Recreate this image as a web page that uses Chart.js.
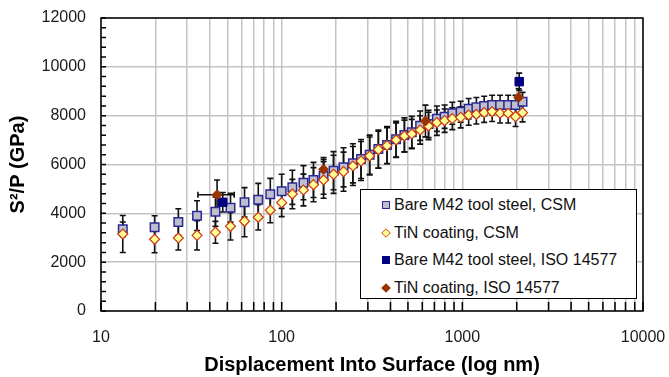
<!DOCTYPE html>
<html>
<head>
<meta charset="utf-8">
<script src="https://cdn.jsdelivr.net/npm/chart.js@4.4.0/dist/chart.umd.min.js"></script>
<style>
  html, body { margin: 0; padding: 0; background: #fff; }
  #wrap { position: relative; width: 669px; height: 377px; }
  #legend {
    position: absolute; left: 360px; top: 189px; width: 275px; height: 108px;
    border: 1px solid #000; background: #fff;
    font: 16px "Liberation Sans", Arial, sans-serif; color: #111;
  }
  .item { position: absolute; left: 0; height: 20px; line-height: 20px; white-space: nowrap; }
  .item span.txt { position: absolute; left: 33px; top: 0; }
  .mk { position: absolute; left: 21px; top: 6px; width: 8px; height: 8px; box-sizing: border-box; }
  .dia { transform: rotate(45deg) scale(0.85); }
</style>
</head>
<body>
<div id="wrap">
  <canvas id="chart" width="669" height="377"></canvas>
  <div id="legend">
    <div class="item" style="top:5px"><div class="mk" style="background:#bfbfcc;border:1.5px solid #2a2a96"></div><span class="txt">Bare M42 tool steel, CSM</span></div>
    <div class="item" style="top:33px"><div class="mk dia" style="background:#ffff99;border:1.5px solid #cc3a10"></div><span class="txt">TiN coating, CSM</span></div>
    <div class="item" style="top:60px"><div class="mk" style="background:#000080"></div><span class="txt">Bare M42 tool steel, ISO 14577</span></div>
    <div class="item" style="top:88px"><div class="mk dia" style="background:#993300"></div><span class="txt">TiN coating, ISO 14577</span></div>
  </div>
</div>
<script>
  // CSM depths (nm) shared by both continuous series
  const xCsm = [13.2, 19.8, 26.8, 34.0, 43.0, 52.1, 62.3, 74.2, 86.5, 100, 114.6, 132, 150, 170.6, 193.7,
    220, 248, 275, 307, 343, 383, 430, 478, 525, 584, 650, 723, 798, 880, 979, 1084, 1196, 1321, 1462,
    1618, 1794, 1970, 2154];
  const bareCsm = [3346, 3428, 3645, 3904, 4067, 4231, 4452, 4559, 4780, 4903, 5067, 5255, 5366, 5530, 5747,
    5885, 6049, 6226, 6402, 6636, 6799, 7033, 7209, 7319, 7590, 7660, 7877, 7959, 8098, 8163, 8286, 8343,
    8397, 8438, 8438, 8438, 8438, 8574];
  const tinCsm = [3154, 2937, 2990, 3100, 3222, 3469, 3674, 3838, 4125, 4436, 4790, 4956, 5174, 5366, 5598,
    5706, 5939, 6144, 6349, 6607, 6771, 7004, 7168, 7250, 7414, 7578, 7713, 7795, 7877, 7932, 8028, 8057,
    8124, 8163, 8098, 8098, 7959, 8124];
  const bareErr = [300, 470, 545, 610, 600, 590, 600, 670, 650, 700, 700, 700, 720, 750, 780, 800, 800, 800,
    800, 780, 760, 740, 700, 650, 600, 560, 520, 480, 450, 430, 420, 400, 400, 400, 400, 400, 400, 380];
  const tinErr = [760, 550, 490, 600, 450, 560, 630, 520, 510, 570, 600, 650, 700, 750, 780, 800, 800, 800,
    780, 760, 740, 700, 650, 600, 580, 560, 520, 480, 450, 430, 420, 400, 400, 400, 400, 400, 400, 380];

  // ISO 14577 single measurements
  const xBareIso = [47.2, 2065];
  const bareIso = [4452, 9392];
  const bareIsoErr = [400, 350];
  const xTinIso = [43.9, 170.6, 625, 2050];
  const tinIso = [4764, 5804, 7782, 8753];
  const tinIsoErr = [600, 400, 650, 350];
  const tinIsoXLow = [34.4, null, null, null];
  const tinIsoXHigh = [54.6, null, null, null];

  const xLabels = [10, 100, 1000, 10000];
  const yTicks = [0, 2000, 4000, 6000, 8000, 10000, 12000];

  const zip = (xs, ys) => xs.map((x, i) => ({ x: x, y: ys[i] }));

  // error bars (drawn under the markers)
  const errorBars = {
    id: "errorBars",
    beforeDatasetsDraw(chart) {
      const ctx = chart.ctx, xs = chart.scales.x, ys = chart.scales.y;
      ctx.save();
      ctx.strokeStyle = "#111";
      ctx.lineWidth = 1.6;
      chart.data.datasets.forEach((ds) => {
        if (!ds.errY) return;
        ds.data.forEach((p, j) => {
          const px = xs.getPixelForValue(p.x);
          const yt = ys.getPixelForValue(p.y + ds.errY[j]);
          const yb = ys.getPixelForValue(p.y - ds.errY[j]);
          ctx.beginPath();
          ctx.moveTo(px, yt); ctx.lineTo(px, yb);
          ctx.moveTo(px - 3, yt); ctx.lineTo(px + 3, yt);
          ctx.moveTo(px - 3, yb); ctx.lineTo(px + 3, yb);
          if (ds.errXLow && ds.errXLow[j] != null) {
            const py = ys.getPixelForValue(p.y);
            const xl = xs.getPixelForValue(ds.errXLow[j]);
            const xh = xs.getPixelForValue(ds.errXHigh[j]);
            ctx.moveTo(xl, py); ctx.lineTo(xh, py);
            ctx.moveTo(xl, py - 3); ctx.lineTo(xl, py + 3);
            ctx.moveTo(xh, py - 3); ctx.lineTo(xh, py + 3);
          }
          ctx.stroke();
        });
      });
      ctx.restore();
    },
  };

  // plot frame with inward tick marks
  const frame = {
    id: "frame",
    beforeDatasetsDraw(chart) {
      const ctx = chart.ctx, a = chart.chartArea, xs = chart.scales.x, ys = chart.scales.y;
      ctx.save();
      ctx.strokeStyle = "#000";
      ctx.lineWidth = 1.5;
      ctx.strokeRect(a.left, a.top, a.right - a.left, a.bottom - a.top);
      ctx.beginPath();
      xs.ticks.forEach((t) => {
        const px = xs.getPixelForValue(t.value);
        ctx.moveTo(px, a.bottom); ctx.lineTo(px, a.bottom - 9);
      });
      for (let v = 0; v <= 12000; v += 400) {
        const py = ys.getPixelForValue(v);
        ctx.moveTo(a.left, py); ctx.lineTo(a.left + 5, py);
      }
      ctx.stroke();
      ctx.restore();
    },
  };

  const tickFont = { family: "'Liberation Sans', Arial, sans-serif", size: 16 };
  const titleFont = { family: "'Liberation Sans', Arial, sans-serif", size: 20, weight: "bold" };

  new Chart(document.getElementById("chart"), {
    type: "scatter",
    data: {
      datasets: [
        {
          label: "Bare M42 tool steel, CSM", data: zip(xCsm, bareCsm), errY: bareErr, order: 4,
          pointStyle: "rect", pointRadius: 6, backgroundColor: "#bfbfcc", borderColor: "#2a2a96", borderWidth: 1.5,
        },
        {
          label: "TiN coating, CSM", data: zip(xCsm, tinCsm), errY: tinErr, order: 3,
          pointStyle: "rectRot", pointRadius: 5, backgroundColor: "#ffff99", borderColor: "#cc3a10", borderWidth: 1.2,
        },
        {
          label: "Bare M42 tool steel, ISO 14577", data: zip(xBareIso, bareIso), errY: bareIsoErr, order: 2,
          pointStyle: "rect", pointRadius: 6, backgroundColor: "#000080", borderColor: "#000080", borderWidth: 1,
        },
        {
          label: "TiN coating, ISO 14577", data: zip(xTinIso, tinIso), errY: tinIsoErr,
          errXLow: tinIsoXLow, errXHigh: tinIsoXHigh, order: 1,
          pointStyle: "rectRot", pointRadius: 5, backgroundColor: "#993300", borderColor: "#993300", borderWidth: 1,
        },
      ],
    },
    options: {
      responsive: false,
      animation: false,
      layout: { padding: { top: 18, right: 26, left: 0, bottom: 0 } },
      plugins: { legend: { display: false }, tooltip: { enabled: false } },
      scales: {
        x: {
          type: "logarithmic", min: 10, max: 10000,
          afterBuildTicks(scale) {
            const t = [];
            for (let d = 10; d < 10000; d *= 10) for (let k = 1; k < 10; k++) t.push({ value: d * k });
            t.push({ value: 10000 });
            scale.ticks = t;
          },
          afterFit(scale) { scale.height = 66; scale.paddingLeft = 0; scale.paddingRight = 0; },
          ticks: {
            autoSkip: false, maxRotation: 0, padding: 17, color: "#1a1a1a", font: tickFont,
            callback: (v) => (xLabels.includes(v) ? String(v) : ""),
          },
          grid: { color: "#c4c4c4", lineWidth: 1.5, drawTicks: false },
          border: { display: false },
          title: { display: true, text: "Displacement Into Surface (log nm)", font: titleFont, color: "#000", padding: { top: 0, bottom: 0 } },
        },
        y: {
          min: 0, max: 12000,
          afterBuildTicks(scale) { scale.ticks = yTicks.map((v) => ({ value: v })); },
          afterFit(scale) { scale.width = 101; scale.paddingTop = 0; scale.paddingBottom = 0; },
          ticks: { padding: 15, color: "#1a1a1a", font: tickFont, callback: (v) => String(v) },
          grid: { color: "#c4c4c4", lineWidth: 1.5, drawTicks: false },
          border: { display: false },
          title: { display: true, text: "S²/P (GPa)", font: titleFont, color: "#000", padding: { top: 6, bottom: 0 } },
        },
      },
    },
    plugins: [errorBars, frame],
  });
</script>
</body>
</html>
